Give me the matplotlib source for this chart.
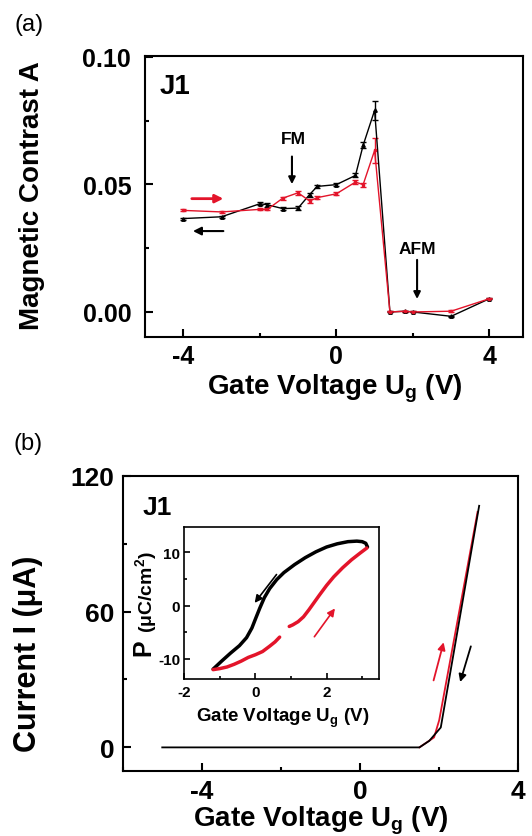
import numpy as np
import matplotlib
matplotlib.use("Agg")
import matplotlib.pyplot as plt
from matplotlib.ticker import MultipleLocator, FormatStrFormatter

plt.rcParams['font.family'] = ['Liberation Sans', 'DejaVu Sans']
plt.rcParams['font.weight'] = 'bold'
plt.rcParams['axes.unicode_minus'] = False
plt.rcParams['mathtext.fontset'] = 'custom'
plt.rcParams['mathtext.rm'] = 'Liberation Sans:bold'
plt.rcParams['mathtext.bf'] = 'Liberation Sans:bold'
plt.rcParams['mathtext.it'] = 'Liberation Sans:bold'

RED = '#e3142a'

# (a) magnetic contrast vs gate voltage
volt_a = [-4, -3, -2, -1.8, -1.4, -1, -0.7, -0.5, 0, 0.5, 0.7, 1, 1.4, 1.8, 2, 3, 4]
contrast_down = [0.0366, 0.0373, 0.0424, 0.0420, 0.0405, 0.0407, 0.0460, 0.0492, 0.0499,
                 0.0535, 0.0653, 0.0790, 0.0000, 0.0003, 0.0000, -0.0017, 0.0052]
err_down = [0.0004, 0.0004, 0.0005, 0.0008, 0.0005, 0.0008, 0.0008, 0.0006, 0.0005,
            0.0008, 0.0012, 0.0037, 0.0002, 0.0002, 0.0002, 0.0003, 0.0003]
contrast_up = [0.0398, 0.0392, 0.0402, 0.0402, 0.0446, 0.0467, 0.0435, 0.0448, 0.0463,
               0.0509, 0.0499, 0.0633, 0.0000, 0.0003, 0.0000, 0.0003, 0.0052]
err_up = [0.0004, 0.0005, 0.0004, 0.0004, 0.0006, 0.0007, 0.0007, 0.0007, 0.0006,
          0.0008, 0.0008, 0.0050, 0.0002, 0.0002, 0.0002, 0.0003, 0.0003]

# (b) current vs gate voltage
volt_i_down = [-5, 1.5, 1.75, 2.04, 3.01]
current_down = [0, 0, 2.9, 8.8, 106.7]
volt_i_up = [1.5, 1.87, 2.0, 2.97]
current_up = [0, 4.4, 12, 104]

# inset: polarization loop
volt_p_down = [3.15, 3.1, 3.0, 2.85, 2.6, 2.3, 2.0, 1.7, 1.4, 1.1, 0.8, 0.6, 0.4, 0.25,
               0.12, 0.0, -0.1, -0.25, -0.45, -0.7, -0.95, -1.19]
pol_down = [11.0, 11.7, 12.0, 12.1, 12.0, 11.6, 11.0, 10.1, 9.0, 7.7, 6.2, 4.9, 3.2, 1.5,
            -0.5, -2.5, -4.2, -6.0, -7.5, -8.9, -10.4, -11.9]
volt_p_up = [-1.19, -1.0, -0.8, -0.6, -0.4, -0.2, 0.0, 0.2, 0.4, 0.55, 0.68, np.nan,
             0.95, 1.05, 1.2, 1.35, 1.5, 1.65, 1.8, 2.0, 2.2, 2.45, 2.7, 2.95, 3.13]
pol_up = [-12.0, -11.8, -11.5, -11.0, -10.4, -9.7, -9.2, -8.6, -7.6, -6.8, -5.9, np.nan,
          -3.9, -3.6, -3.0, -2.1, -0.8, 0.6, 2.0, 3.8, 5.4, 7.1, 8.6, 9.9, 10.8]

fig = plt.figure(figsize=(5.32, 8.37), dpi=100)


def style_axes(ax, lw=1.5, major=6, minor=3, size=18, pad=6):
    for s in ax.spines.values():
        s.set_linewidth(lw)
    ax.tick_params(which='both', direction='in', width=lw, labelsize=size, pad=pad)
    ax.tick_params(which='major', length=major)
    ax.tick_params(which='minor', length=minor)
    for lab in ax.get_xticklabels() + ax.get_yticklabels():
        lab.set_fontweight('bold')


# ---- panel (a)
ax1 = fig.add_axes([0.2726, 0.5962, 0.7099, 0.3357])
ax1.errorbar(volt_a, contrast_down, yerr=err_down, color='black', marker='^', ms=2.5,
             lw=1, elinewidth=1, capsize=2)
ax1.errorbar(volt_a, contrast_up, yerr=err_up, color=RED, marker='s', ms=2,
             lw=1, elinewidth=1, capsize=2)
ax1.set_xlim(-5, 4.87)
ax1.set_ylim(-0.0098, 0.1003)
ax1.xaxis.set_major_locator(MultipleLocator(4))
ax1.xaxis.set_minor_locator(MultipleLocator(2))
ax1.yaxis.set_major_locator(MultipleLocator(0.05))
ax1.yaxis.set_minor_locator(MultipleLocator(0.025))
ax1.yaxis.set_major_formatter(FormatStrFormatter('%.2f'))
style_axes(ax1)
ax1.tick_params(axis='x', pad=5)
ax1.tick_params(axis='y', pad=10)
ax1.set_xlabel('Gate Voltage U$_\\mathregular{g}$ (V)', fontsize=20, fontweight='bold')
ax1.set_ylabel('Magnetic Contrast A', fontsize=20, fontweight='bold')
ax1.xaxis.set_label_coords(0.503, -0.125)
ax1.yaxis.set_label_coords(-0.265, 0.505)

ax1.text(-4.62, 0.0884, 'J1', fontsize=20, fontweight='bold', ha='left', va='center')
ax1.text(-1.13, 0.068, 'FM', fontsize=12.5, fontweight='bold', ha='center', va='center')
ax1.text(2.11, 0.025, 'AFM', fontsize=12.5, fontweight='bold', ha='center', va='center')
arrow_kw = dict(arrowstyle='-|>', lw=1.5, mutation_scale=10)
ax1.annotate('', xy=(-1.16, 0.049), xytext=(-1.16, 0.062),
             arrowprops=dict(color='black', **arrow_kw))
ax1.annotate('', xy=(2.11, 0.004), xytext=(2.11, 0.0215),
             arrowprops=dict(color='black', **arrow_kw))
ax1.annotate('', xy=(-2.88, 0.0444), xytext=(-3.85, 0.0444),
             arrowprops=dict(color=RED, arrowstyle='-|>', lw=2, mutation_scale=12))
ax1.annotate('', xy=(-3.82, 0.0317), xytext=(-2.88, 0.0317),
             arrowprops=dict(color='black', arrowstyle='-|>', lw=1.5, mutation_scale=12))

# ---- panel (b)
ax2 = fig.add_axes([0.2306, 0.0780, 0.7437, 0.3525])
ax2.plot(volt_i_up, current_up, color=RED, lw=1.3)
ax2.plot(volt_i_down, current_down, color='black', lw=1.3)
ax2.set_xlim(-6, 4)
ax2.set_ylim(-10.3, 120)
ax2.xaxis.set_major_locator(MultipleLocator(4))
ax2.xaxis.set_minor_locator(MultipleLocator(2))
ax2.yaxis.set_major_locator(MultipleLocator(60))
ax2.yaxis.set_minor_locator(MultipleLocator(30))
style_axes(ax2, size=19)
ax2.tick_params(axis='x', pad=6)
ax2.tick_params(axis='y', pad=6)
ax2.set_xlabel('Gate Voltage U$_\\mathregular{g}$ (V)', fontsize=20, fontweight='bold')
ax2.set_ylabel('Current I (μA)', fontsize=22, fontweight='bold')
ax2.xaxis.set_label_coords(0.501, -0.112)
ax2.yaxis.set_label_coords(-0.2015, 0.40)
ax2.text(-5.5, 106, 'J1', fontsize=19, fontweight='bold', ha='left', va='center')
ax2.annotate('', xy=(2.13, 47.6), xytext=(1.84, 28.4),
             arrowprops=dict(color=RED, arrowstyle='-|>', lw=1.3, mutation_scale=11))
ax2.annotate('', xy=(2.51, 27.7), xytext=(2.82, 45.8),
             arrowprops=dict(color='black', arrowstyle='-|>', lw=1.3, mutation_scale=11))

# ---- inset
ax3 = fig.add_axes([0.3464, 0.1876, 0.3665, 0.1812])
ax3.plot(volt_p_down, pol_down, color='black', lw=2.5, solid_capstyle='round',
         solid_joinstyle='round')
ax3.plot(volt_p_up, pol_up, color=RED, lw=2.5, solid_capstyle='round',
         solid_joinstyle='round')
ax3.set_xlim(-2, 3.48)
ax3.set_ylim(-13.75, 14.69)
ax3.xaxis.set_major_locator(MultipleLocator(2))
ax3.xaxis.set_minor_locator(MultipleLocator(1))
ax3.yaxis.set_major_locator(MultipleLocator(10))
ax3.yaxis.set_minor_locator(MultipleLocator(5))
style_axes(ax3, lw=1.2, major=4, minor=2, size=11, pad=4)
ax3.tick_params(axis='y', pad=3)
ax3.set_xlabel('Gate Voltage U$_\\mathregular{g}$ (V)', fontsize=13.5, fontweight='bold')
ax3.xaxis.set_label_coords(0.504, -0.176)
ax3.text(-0.212, 0.213, 'P', fontsize=18, fontweight='bold', rotation=90,
         ha='center', va='center', transform=ax3.transAxes)
ax3.text(-0.196, 0.582, '(μC/cm$^\\mathregular{2}$)', fontsize=14, fontweight='bold',
         rotation=90, ha='center', va='center', transform=ax3.transAxes)
ax3.annotate('', xy=(-0.07, 0.1), xytext=(0.64, 6.25),
             arrowprops=dict(color='black', arrowstyle='-|>', lw=1.2, mutation_scale=11))
ax3.annotate('', xy=(2.28, -0.1), xytext=(1.61, -6.25),
             arrowprops=dict(color=RED, arrowstyle='-|>', lw=1.2, mutation_scale=11))

fig.text(0.0545, 0.970, '(a)', fontsize=17, ha='center', va='center', fontweight='normal')
fig.text(0.0526, 0.4695, '(b)', fontsize=17, ha='center', va='center', fontweight='normal')

fig.savefig('out.png', dpi=100)
